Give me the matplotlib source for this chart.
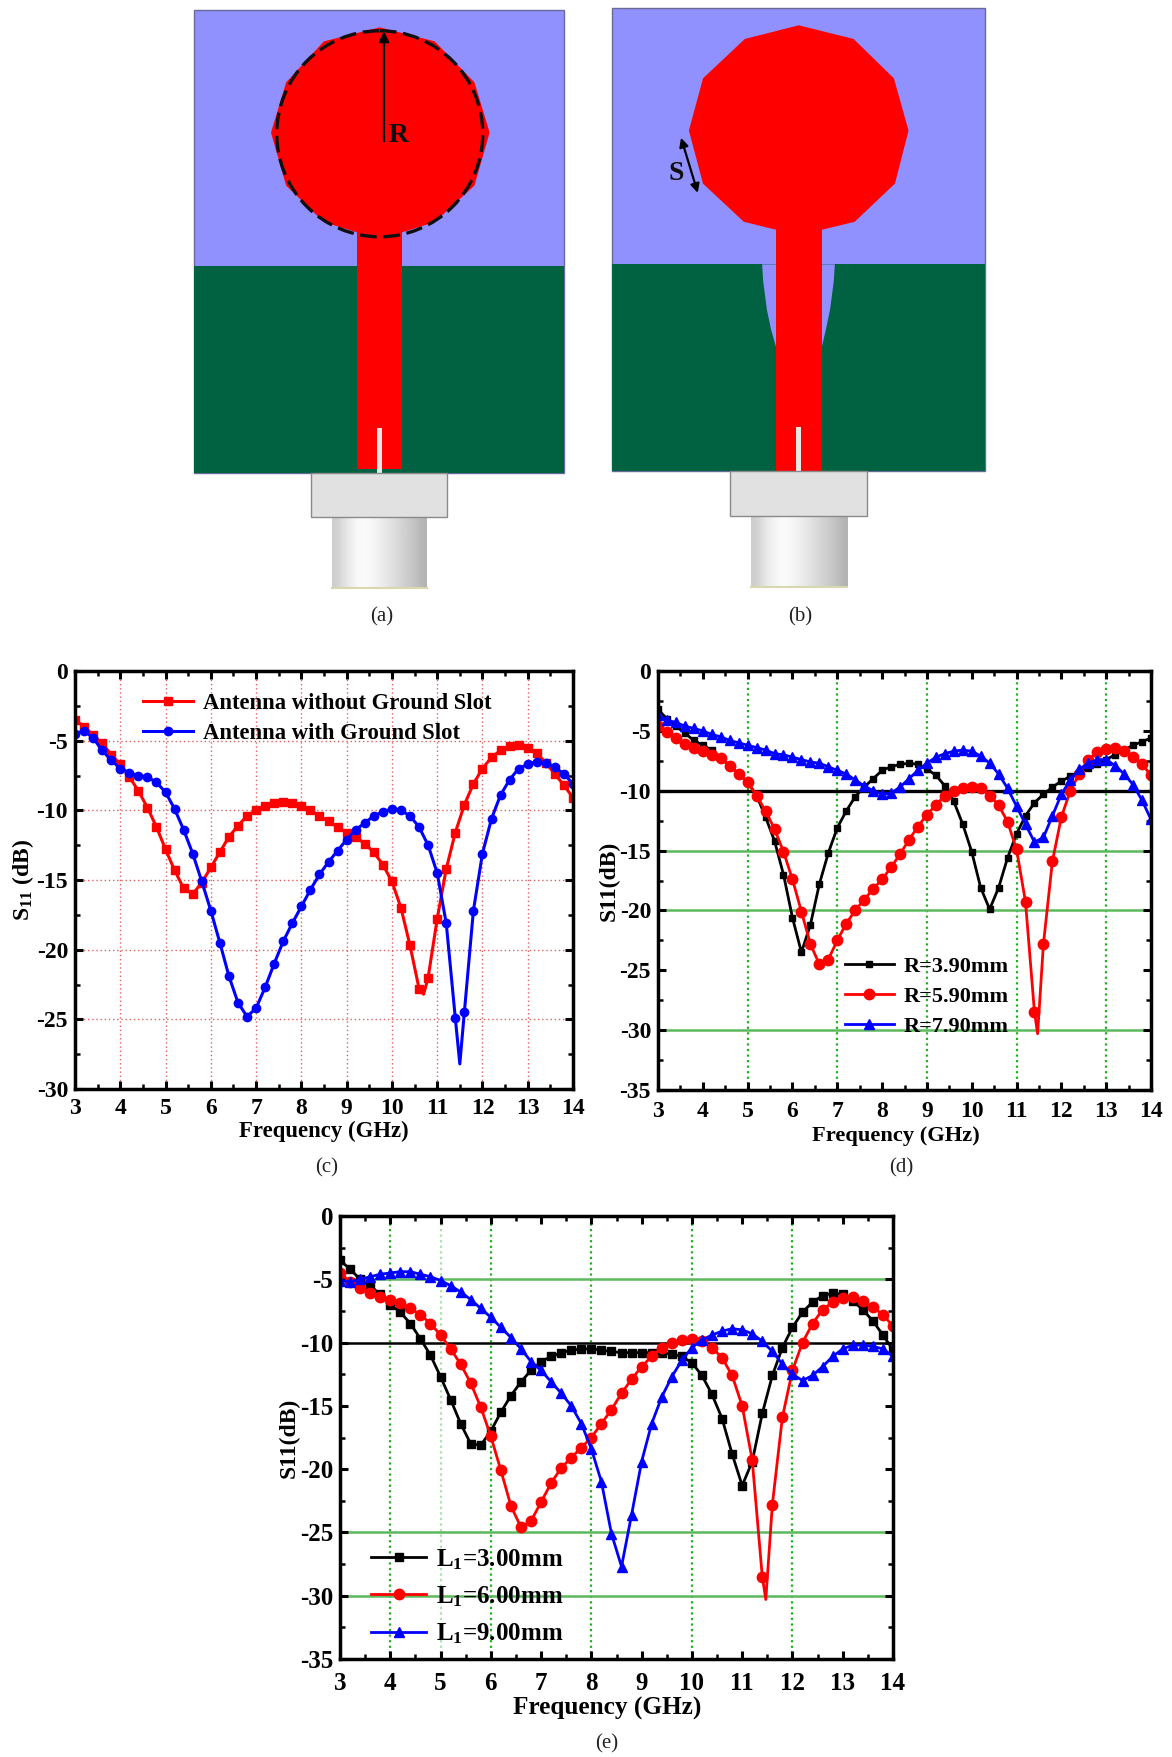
import numpy as np
import matplotlib
matplotlib.use('Agg')
import matplotlib.pyplot as plt
from matplotlib.patches import Polygon, Rectangle, Circle
from matplotlib.ticker import MultipleLocator

plt.rcParams['font.family'] = 'Liberation Serif'
plt.rcParams['font.weight'] = 'bold'
plt.rcParams['axes.labelweight'] = 'bold'
plt.rcParams['axes.unicode_minus'] = False
plt.rcParams['mathtext.fontset'] = 'custom'
plt.rcParams['mathtext.rm'] = 'Liberation Serif:bold'
plt.rcParams['mathtext.bf'] = 'Liberation Serif:bold'
plt.rcParams['mathtext.it'] = 'Liberation Serif:bold'

W, H = 1172, 1757

freq = [3 + 0.2 * i for i in range(56)]

# (c)
c_without = [-3.5, -4.0, -4.6, -5.2, -6.0, -6.7, -7.6, -8.6, -9.8, -11.2, -12.8, -14.3, -15.6, -16.0,
             -15.2, -14.1, -13.0, -11.9, -11.1, -10.4, -10.0, -9.7, -9.5, -9.4, -9.5, -9.7, -10.0, -10.4,
             -10.8, -11.2, -11.6, -11.9, -12.4, -13.0, -13.9, -15.1, -17.0, -19.7, -22.8, -22.0, -17.8, -14.2,
             -11.6, -9.6, -8.1, -7.0, -6.2, -5.7, -5.4, -5.3, -5.5, -5.9, -6.6, -7.4, -8.2, -9.1]
c_with = [-4.5, -4.3, -4.8, -5.7, -6.4, -7.0, -7.3, -7.5, -7.6, -8.0, -8.7, -9.9, -11.4, -13.1,
          -15.1, -17.2, -19.5, -21.9, -23.8, -24.8, -24.2, -22.7, -21.0, -19.4, -18.1, -16.9, -15.7, -14.6,
          -13.7, -12.9, -12.1, -11.4, -10.9, -10.4, -10.1, -9.9, -10.0, -10.4, -11.2, -12.5, -14.5, -18.1,
          -24.9, -24.5, -17.2, -13.1, -10.6, -8.9, -7.8, -7.0, -6.7, -6.5, -6.6, -6.9, -7.4, -8.1]

# (d)
d_r390 = [-3.2, -4.0, -4.6, -5.2, -5.8, -6.2, -6.6, -7.3, -7.9, -8.6, -9.3, -10.4, -12.2, -14.2,
          -17.0, -20.6, -23.5, -21.2, -17.8, -15.2, -13.1, -11.7, -10.5, -9.7, -9.0, -8.3, -8.0, -7.8,
          -7.7, -7.8, -8.2, -8.7, -9.6, -10.9, -12.8, -15.1, -18.1, -19.9, -18.1, -15.6, -13.6, -12.1,
          -11.0, -10.3, -9.7, -9.2, -8.8, -8.5, -8.1, -7.8, -7.4, -7.0, -6.6, -6.2, -5.9, -5.6]
d_r590 = [-4.6, -5.1, -5.6, -6.1, -6.4, -6.7, -7.0, -7.3, -7.9, -8.6, -9.3, -10.4, -11.7, -13.2,
          -15.1, -17.4, -20.1, -22.8, -24.5, -24.1, -22.5, -21.1, -20.0, -19.1, -18.2, -17.4, -16.4, -15.3,
          -14.1, -13.0, -12.0, -11.2, -10.4, -10.0, -9.8, -9.7, -9.8, -10.4, -11.2, -12.6, -14.9, -19.3,
          -28.5, -22.8, -15.9, -12.2, -10.0, -8.6, -7.4, -6.8, -6.5, -6.4, -6.7, -7.2, -7.8, -8.7]
d_r790 = [-3.7, -4.1, -4.3, -4.6, -4.8, -5.0, -5.3, -5.5, -5.8, -6.0, -6.2, -6.4, -6.6, -6.9,
          -7.0, -7.2, -7.4, -7.6, -7.7, -8.0, -8.3, -8.6, -9.1, -9.6, -10.0, -10.3, -10.2, -9.7,
          -9.0, -8.3, -7.7, -7.2, -6.9, -6.7, -6.6, -6.7, -7.1, -7.7, -8.6, -9.8, -11.3, -12.8,
          -14.3, -13.9, -12.1, -10.3, -9.1, -8.2, -7.7, -7.4, -7.4, -7.9, -8.6, -9.5, -10.8, -12.4]

# (e)
e_l3 = [-3.5, -4.2, -5.0, -5.5, -6.2, -7.0, -7.6, -8.5, -9.7, -11.0, -12.7, -14.5, -16.4, -18.0,
        -18.1, -17.0, -15.5, -14.2, -13.1, -12.2, -11.5, -11.1, -10.8, -10.6, -10.5, -10.5, -10.6, -10.7,
        -10.8, -10.8, -10.8, -10.8, -10.8, -10.9, -11.1, -11.6, -12.6, -14.1, -16.0, -18.8, -21.3, -19.4,
        -15.6, -12.6, -10.4, -8.8, -7.6, -6.8, -6.3, -6.1, -6.2, -6.7, -7.4, -8.3, -9.4, -10.6]
e_l6 = [-4.5, -5.2, -5.7, -6.1, -6.4, -6.6, -6.9, -7.3, -7.8, -8.5, -9.4, -10.5, -11.7, -13.2,
        -15.1, -17.4, -20.1, -22.9, -24.6, -24.1, -22.6, -21.1, -19.9, -19.1, -18.3, -17.5, -16.4, -15.3,
        -14.0, -12.9, -11.9, -11.1, -10.4, -10.0, -9.8, -9.7, -9.9, -10.4, -11.2, -12.6, -15.0, -19.3,
        -28.5, -22.8, -15.9, -12.2, -10.0, -8.5, -7.4, -6.8, -6.5, -6.4, -6.7, -7.2, -7.8, -8.7]
e_l9 = [-5.1, -5.2, -5.0, -4.8, -4.6, -4.5, -4.4, -4.4, -4.6, -4.8, -5.1, -5.5, -6.0, -6.6,
        -7.3, -8.0, -8.8, -9.6, -10.5, -11.5, -12.2, -13.1, -14.0, -15.0, -16.4, -18.4, -21.0, -25.1,
        -27.7, -23.6, -19.4, -16.4, -14.3, -12.7, -11.4, -10.4, -9.8, -9.4, -9.1, -8.9, -9.0, -9.3,
        -9.9, -10.7, -11.7, -12.5, -13.0, -12.6, -11.9, -11.1, -10.5, -10.2, -10.2, -10.3, -10.5, -11.1]

# minima that fall between the 0.2 GHz samples
c_without_dip = (10.7, -23.2)
c_with_dip = (11.5, -28.2)
d_r590_dip = (11.47, -30.3)
e_l6_dip = (11.47, -30.3)

xticks = list(range(3, 15))

# antenna drawings, in crop units of the top part (x/1.912+180, y/2.489)
patch_a = [(382, 68), (487, 103), (563, 205), (592, 330), (563, 462), (487, 553), (425, 578),
           (338, 578), (275, 553), (203, 462), (174, 330), (203, 205), (275, 103)]
patch_b = [(1183, 63), (1288, 97), (1365, 195), (1393, 325), (1367, 457), (1290, 552), (1227, 572),
           (1140, 572), (1078, 552), (1000, 457), (973, 325), (1000, 195), (1080, 97)]
slot_b = [(1113, 658), (1115, 700), (1122, 770), (1130, 820), (1140, 865),
          (1227, 865), (1235, 820), (1243, 770), (1250, 700), (1252, 658)]


def px(pts):
    return [(180 + x / 1.912, y / 2.489) for x, y in pts]


def box(ax, x0, y0, x1, y1, **kw):
    (a, b), (c, d) = px([(x0, y0), (x1, y1)])
    ax.add_patch(Rectangle((a, b), c - a, d - b, **kw))


fig = plt.figure(figsize=(W / 100, H / 100), dpi=100)

bg = fig.add_axes([0, 0, 1, 1])
bg.set_xlim(0, W)
bg.set_ylim(H, 0)
bg.axis('off')

blue = '#9090FF'
green = '#006241'
edge = '#6a6a9a'
gray = '#E1E1E1'
shade = np.array([[0.80, 0.88, 0.94, 0.98, 0.98, 0.95, 0.92, 0.88, 0.84, 0.80, 0.76, 0.70]])


def antenna(x0, x1, top, gnd, bot, feed0, feed1, feed_top, feed_bot, sl0, sl1, sl_top, sl_bot,
            con0, con1, con_bot, cyl0, cyl1, cyl_bot, patch):
    box(bg, x0, top, x1, bot, fc=blue, ec=edge, lw=1)
    box(bg, x0, gnd, x1, bot, fc=green, ec='none')
    if patch is patch_b:
        bg.add_patch(Polygon(px(slot_b), fc=blue, ec='none'))
    bg.add_patch(Polygon(px(patch), fc='#FF0000', ec='none'))
    box(bg, feed0, feed_top, feed1, feed_bot, fc='#FF0000', ec='none')
    box(bg, sl0, sl_top, sl1, sl_bot, fc='#E8E8E0', ec='none')
    box(bg, con0, bot, con1, con_bot, fc=gray, ec='#8a8a8a', lw=1)
    (a, b), (c, d) = px([(cyl0, con_bot), (cyl1, cyl_bot)])
    bg.imshow(shade, cmap='gray', vmin=0, vmax=1, extent=(a, c, d, b), aspect='auto', interpolation='bicubic')
    bg.plot([a, c], [d, d], color='#d8d8b0', lw=1.5)


antenna(27, 735, 25, 661, 1177, 338, 425, 570, 1167, 377, 386, 1065, 1177,
        251, 511, 1287, 291, 472, 1463, patch_a)
antenna(826, 1539, 20, 658, 1173, 1140, 1227, 565, 1173, 1178, 1188, 1062, 1173,
        1052, 1314, 1285, 1091, 1275, 1462, patch_b)
bg.set_xlim(0, W)
bg.set_ylim(H, 0)

(cx, cy), = px([(382, 333)])
bg.add_patch(Circle((cx, cy), 103, fc='none', ec='#101010', lw=2.4, ls=(0, (5, 2))))
(ax0, ay0), (ax1, ay1) = px([(390, 352), (390, 78)])
bg.annotate('', xy=(ax1, ay1), xytext=(ax0, ay0),
            arrowprops=dict(arrowstyle='-|>', color='black', lw=1.6, mutation_scale=15, shrinkA=0, shrinkB=0))
(sx0, sy0), (sx1, sy1) = px([(958, 343), (990, 480)])
bg.annotate('', xy=(sx1, sy1), xytext=(sx0, sy0),
            arrowprops=dict(arrowstyle='<|-|>', color='black', lw=1.6, mutation_scale=13, shrinkA=0, shrinkB=0))
(tx, ty), (ux, uy) = px([(418, 337), (948, 433)])
bg.text(tx, ty, 'R', fontsize=20, ha='center', va='center', color='#101010')
bg.text(ux, uy, 'S', fontsize=20, ha='center', va='center', color='#101010')

for label, x, y in [('(a)', 382, 617), ('(b)', 800, 617), ('(c)', 327, 1168), ('(d)', 901, 1168), ('(e)', 607, 1744)]:
    bg.text(x, y, label, fontsize=15, fontweight='normal', ha='center', va='center', color='#222222')


def curve(ax, ys, color, marker, label, dip=None, ms=6, lw=2.2):
    xs = list(freq)
    vals = list(ys)
    marks = list(range(len(xs)))
    if dip is not None:
        i = next(k for k, v in enumerate(xs) if v > dip[0])
        xs.insert(i, dip[0])
        vals.insert(i, dip[1])
        marks = [m if m < i else m + 1 for m in marks]
    ax.plot(xs, vals, color=color, marker=marker, ms=ms, lw=lw, markevery=marks, label=label)


def panel(l, t, r, b, ymin, ylabel, tick_pad, xlabel_pad, tick_fs, label_fs, label_x):
    ax = fig.add_axes([l / W, 1 - b / H, (r - l) / W, (b - t) / H])
    ax.set_xlim(3, 14)
    ax.set_ylim(ymin, 0)
    yticks = list(range(ymin, 1, 5))
    ax.set_xticks(xticks, labels=[str(v) for v in xticks], fontweight='bold', fontsize=tick_fs)
    ax.set_yticks(yticks, labels=[str(v) for v in yticks], fontweight='bold', fontsize=tick_fs)
    ax.xaxis.set_minor_locator(MultipleLocator(0.5))
    ax.yaxis.set_minor_locator(MultipleLocator(2.5))
    ax.tick_params(which='major', direction='in', length=6, width=2.2, top=True, right=True)
    ax.tick_params(which='minor', direction='in', length=3.5, width=1.8, top=True, right=True)
    ax.tick_params(axis='x', which='major', pad=tick_pad)
    ax.tick_params(axis='y', which='major', pad=5)
    for s in ax.spines.values():
        s.set_linewidth(2.5)
        s.set_zorder(5)
    ax.set_xlabel('Frequency (GHz)', fontsize=label_fs, labelpad=xlabel_pad, x=label_x)
    ax.set_ylabel(ylabel, fontsize=17, labelpad=0)
    return ax


# (c)
ax = panel(75, 671, 573, 1089, -30, 'S$_{11}$ (dB)', 6.5, 1.5, 17, 16.4, 0.5)
ax.grid(True, which='major', color='#E06060', ls=(0, (1, 2)), lw=1)
ax.set_axisbelow(True)
curve(ax, c_without, '#FF0000', 's', 'Antenna without Ground Slot', c_without_dip)
curve(ax, c_with, '#0000FF', 'o', 'Antenna with Ground Slot', c_with_dip)
ax.legend(loc='upper left', bbox_to_anchor=(0.105, 0.985), frameon=False, fontsize=16.3,
          handlelength=2.2, handletextpad=0.45, labelspacing=0.4, borderpad=0.2)

# (d)
ax = panel(658, 671, 1151, 1090, -35, 'S11(dB)', 8, 2.5, 17, 16.2, 0.483)
for v in [5, 7, 9, 11, 13]:
    ax.axvline(v, color='#22B022', ls=(0, (1, 1.5)), lw=1.6, zorder=1)
for v in [-15, -20, -30]:
    ax.axhline(v, color='#5CB85C', lw=1.8, zorder=1)
ax.axhline(-10, color='black', lw=2.4, zorder=1)
curve(ax, d_r390, 'black', 's', 'R=3.90mm', ms=5, lw=2)
curve(ax, d_r590, '#FF0000', 'o', 'R=5.90mm', d_r590_dip, ms=7.5, lw=2)
curve(ax, d_r790, '#0000FF', '^', 'R=7.90mm', ms=7.5, lw=2)
ax.legend(loc='lower left', bbox_to_anchor=(0.347, 0.09), frameon=False, fontsize=16,
          handlelength=2.2, handletextpad=0.45, labelspacing=0.42, borderpad=0.2)

# (e)
ax = panel(340, 1216, 893, 1659, -35, 'S11(dB)', 9, 1.5, 18, 18.2, 0.484)
for v in [4, 5, 6, 8, 10, 12]:
    ax.axvline(v, color='#22B022' if v != 5 else '#A8E0A8', ls=(0, (1, 1.5)), lw=1.6, zorder=1)
for v in [-5, -25, -30]:
    ax.axhline(v, color='#5CB85C', lw=1.8, zorder=1)
ax.axhline(-10, color='black', lw=1.8, zorder=1)
curve(ax, e_l3, 'black', 's', 'L$_{1}$=3.00mm', ms=5.5, lw=2)
curve(ax, e_l6, '#FF0000', 'o', 'L$_{1}$=6.00mm', e_l6_dip, ms=7.5, lw=2)
curve(ax, e_l9, '#0000FF', '^', 'L$_{1}$=9.00mm', ms=7.5, lw=2)
ax.legend(loc='lower left', bbox_to_anchor=(0.025, -0.01), frameon=False, fontsize=18,
          handlelength=2.2, handletextpad=0.4, labelspacing=0.5, borderpad=0.2)

fig.savefig('out.png', dpi=100)
